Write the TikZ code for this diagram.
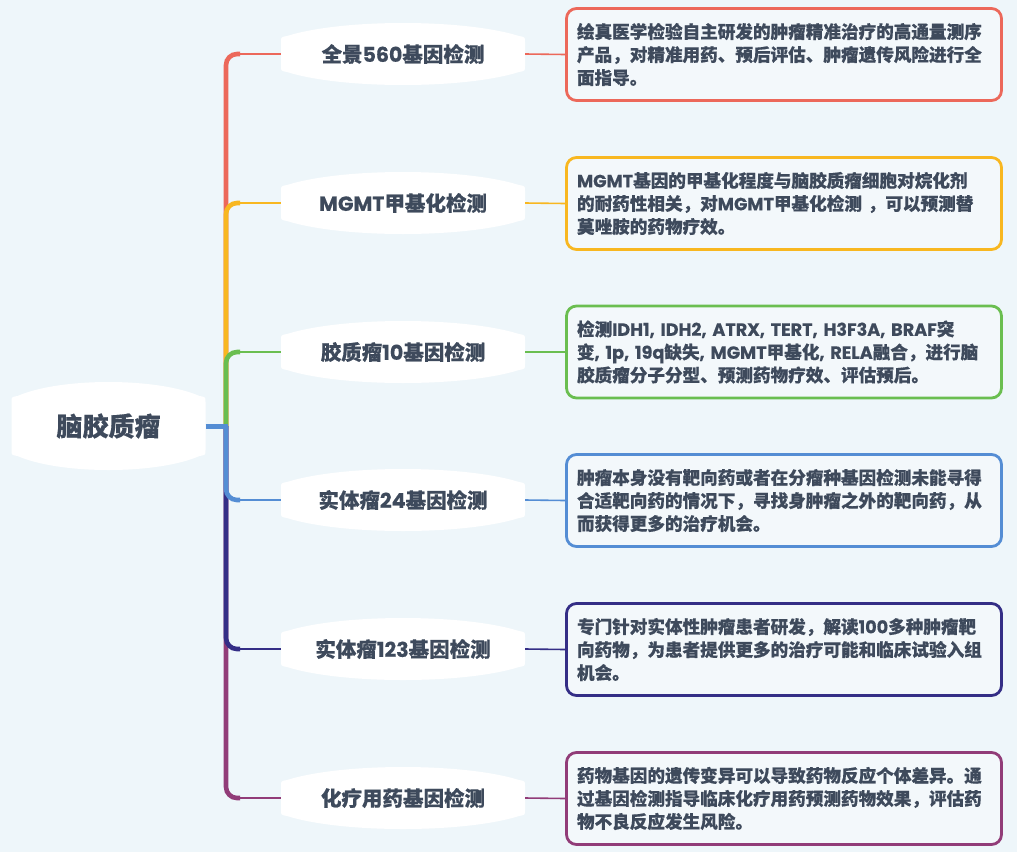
\documentclass[tikz,border=0pt]{standalone}
\usepackage{fontspec}
\setmainfont{Noto Sans CJK SC}[BoldFeatures={FakeBold=0.5}]
\newfontfamily\latfont{Poppins}[BoldFeatures={FakeBold=0.4}]
\newcommand\lt[1]{{\latfont\bfseries #1}}
\definecolor{bgc}{RGB}{238,246,250}
\definecolor{boxfill}{RGB}{243,248,251}
\definecolor{txt}{RGB}{62,74,92}
\definecolor{cred}{RGB}{236,104,90}
\definecolor{corange}{RGB}{248,183,32}
\definecolor{cgreen}{RGB}{106,190,80}
\definecolor{cblue}{RGB}{84,141,212}
\definecolor{cindigo}{RGB}{52,46,134}
\definecolor{cpurple}{RGB}{145,60,120}
% lens shape: #1 cx, #2 cy, #3 half width, #4 half side height, #5 bulge
\newcommand\lensshape[5]{%
  \fill[white]
    ({#1-#3+6},{#2-#4}) .. controls ({#1-#3*0.5},{#2-#4-#5*1.333}) and ({#1+#3*0.5},{#2-#4-#5*1.333}) .. ({#1+#3-6},{#2-#4})
    .. controls ({#1+#3},{#2-#4+1}) .. ({#1+#3},{#2-#4+6})
    -- ({#1+#3},{#2+#4-6})
    .. controls ({#1+#3},{#2+#4-1}) .. ({#1+#3-6},{#2+#4})
    .. controls ({#1+#3*0.5},{#2+#4+#5*1.333}) and ({#1-#3*0.5},{#2+#4+#5*1.333}) .. ({#1-#3+6},{#2+#4})
    .. controls ({#1-#3},{#2+#4-1}) .. ({#1-#3},{#2+#4-6})
    -- ({#1-#3},{#2-#4+6})
    .. controls ({#1-#3},{#2-#4+1}) .. cycle;}
\tikzset{
  roottext/.style={inner sep=0pt, minimum width=194, minimum height=60, text=txt, font=\fontsize{26}{30}\selectfont\bfseries},
  childtext/.style={inner sep=0pt, minimum width=244, minimum height=36, text=txt, font=\fontsize{20.5}{24}\selectfont\bfseries},
  descbox/.style={draw=#1, line width=2.8pt, rounded corners=10pt, fill=boxfill, minimum width=435, minimum height=92,
    text width=414, inner xsep=10.5pt, align=left, text=txt, font=\fontsize{17.6}{23}\selectfont\bfseries},
  trunk/.style={draw=#1, line width=4.6pt, rounded corners=11pt},
  mid/.style={draw=#1, line width=2.8pt},
  twig/.style={draw=#1, line width=1.6pt},
}
\begin{document}
\begin{tikzpicture}[x=1pt,y=-1pt]
\fill[bgc] (0,0) rectangle (1017,852);
\useasboundingbox (0,0) rectangle (1017,852);

% shapes
\lensshape{108.5}{426}{97}{30}{14}
\foreach \yy in {54,203,352,500,649,798}{\lensshape{403}{\yy}{122}{18}{13}}

% nodes
\node[roottext] (root) at (108.5,426) {脑胶质瘤};
\node[childtext] (c1) at (403,54) {全景\lt{560}基因检测};
\node[childtext] (c2) at (403,203) {\lt{MGMT}甲基化检测};
\node[childtext] (c3) at (403,352) {胶质瘤\lt{10}基因检测};
\node[childtext] (c4) at (403,500) {实体瘤\lt{24}基因检测};
\node[childtext] (c5) at (403,649) {实体瘤\lt{123}基因检测};
\node[childtext] (c6) at (403,798) {化疗用药基因检测};

\node[descbox=cred] (d1) at (784,54.5) {绘真医学检验自主研发的肿瘤精准治疗的高通量测序\\产品，对精准用药、预后评估、肿瘤遗传风险进行全\\面指导。};
\node[descbox=corange] (d2) at (784,203.5) {\lt{MGMT}基因的甲基化程度与脑胶质瘤细胞对烷化剂\\的耐药性相关，对\lt{MGMT}甲基化检测 ，可以预测替\\莫唑胺的药物疗效。};
\node[descbox=cgreen] (d3) at (784,352) {检测\lt{IDH1, IDH2, ATRX, TERT, H3F3A, BRAF}突\\变\lt{, 1p, 19q}缺失\lt{, MGMT}甲基化\lt{, RELA}融合，进行脑\\胶质瘤分子分型、预测药物疗效、评估预后。};
\node[descbox=cblue] (d4) at (784,500.5) {肿瘤本身没有靶向药或者在分瘤种基因检测未能寻得\\合适靶向药的情况下，寻找身肿瘤之外的靶向药，从\\而获得更多的治疗机会。};
\node[descbox=cindigo] (d5) at (784,649.5) {专门针对实体性肿瘤患者研发，解读\lt{100}多种肿瘤靶\\向药物，为患者提供更多的治疗可能和临床试验入组\\机会。};
\node[descbox=cpurple] (d6) at (784,798.5) {药物基因的遗传变异可以导致药物反应个体差异。通\\过基因检测指导临床化疗用药预测药物效果，评估药\\物不良反应发生风险。};

% trunk point
\coordinate (t) at (226,426);

% branches: drawn so that the segment nearest the root ends on top
\foreach \c/\col in {c1/cred,c2/corange,c3/cgreen,c6/cpurple,c5/cindigo,c4/cblue}{
  \path (\c.west) coordinate (e);
  \path (t |- e) coordinate (m);
  \path (m) ++(14,0) coordinate (h);
  \path (m) ++(24,0) coordinate (g);
  \draw[trunk=\col] (t) -- (m) -- (h);
  \draw[mid=\col] ([xshift=-1pt]h) -- (g);
  \draw[twig=\col] ([xshift=-1pt]g) -- (\c.west);
}
% root stub
\draw[line width=5pt, cblue] (root.east) -- ([xshift=2.3pt]t);

% child to description connectors
\draw[twig=cred] (c1.east) -- (d1.west);
\draw[twig=corange] (c2.east) -- (d2.west);
\draw[twig=cgreen] (c3.east) -- (d3.west);
\draw[twig=cblue] (c4.east) -- (d4.west);
\draw[twig=cindigo] (c5.east) -- (d5.west);
\draw[twig=cpurple] (c6.east) -- (d6.west);
\end{tikzpicture}
\end{document}
